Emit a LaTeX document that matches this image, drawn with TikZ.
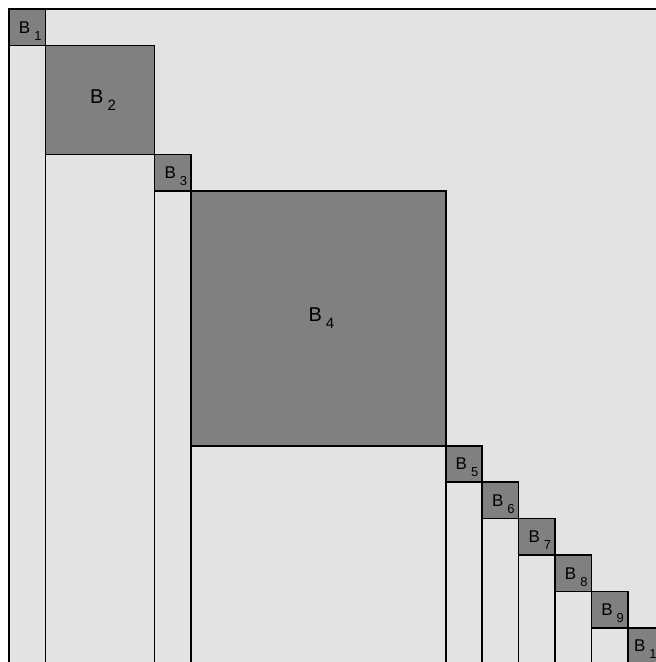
\documentclass[tikz,border=0pt]{standalone}
\usepackage{fontspec}
\setmainfont{Liberation Sans}
\usetikzlibrary{positioning}
\definecolor{matbg}{HTML}{E3E3E3}
\definecolor{blockgray}{HTML}{808080}
\tikzset{
  blockbox/.style={draw, fill=blockgray, line width=1.7pt, inner sep=0pt, outer sep=0pt,
    anchor=north west, minimum size=#1*36.4pt},
  collines/.style={line width=1.7pt},
}
% labels: big blocks centre B and index together, small blocks centre the B
\newcommand{\bigblab}[1]{\hspace{6pt}{\fontsize{20}{20}\selectfont B}\kern4pt\raisebox{-7pt}{\fontsize{15}{15}\selectfont #1}}
\newcommand{\blab}[1]{\hspace{6pt}{\fontsize{17}{17}\selectfont B}\kern4pt\smash{\raisebox{-7pt}{\fontsize{13}{13}\selectfont #1}}}

\begin{document}
\begin{tikzpicture}[x=1pt,y=-1pt]
  \useasboundingbox (0,0) rectangle (656,662);
  \clip (0,0) rectangle (656,662);
  \fill[white] (0,0) rectangle (656,662);
  % matrix area
  \draw[fill=matbg, line width=1.7pt] (9,9) rectangle (690,690);
  \coordinate (bottom) at (0,690);
  % diagonal blocks
  \node[blockbox=1] (b1) at (9,9) {\blab{1}};
  \node[blockbox=3] (b2) at (b1.south east) {\bigblab{2}};
  \node[blockbox=1] (b3) at (b2.south east) {\blab{3}};
  \node[blockbox=7] (b4) at (b3.south east) {\bigblab{4}};
  \node[blockbox=1] (b5) at (b4.south east) {\blab{5}};
  \node[blockbox=1] (b6) at (b5.south east) {\blab{6}};
  \node[blockbox=1] (b7) at (b6.south east) {\blab{7}};
  \node[blockbox=1] (b8) at (b7.south east) {\blab{8}};
  \node[blockbox=1] (b9) at (b8.south east) {\blab{9}};
  \node[blockbox=1] (b10) at (b9.south east) {\blab{10}};
  % columns below the blocks
  \foreach \i in {1,...,10}
    \draw[collines] (b\i.south west) -- (b\i.south west |- bottom)
                    (b\i.south east) -- (b\i.south east |- bottom);
\end{tikzpicture}
\end{document}
